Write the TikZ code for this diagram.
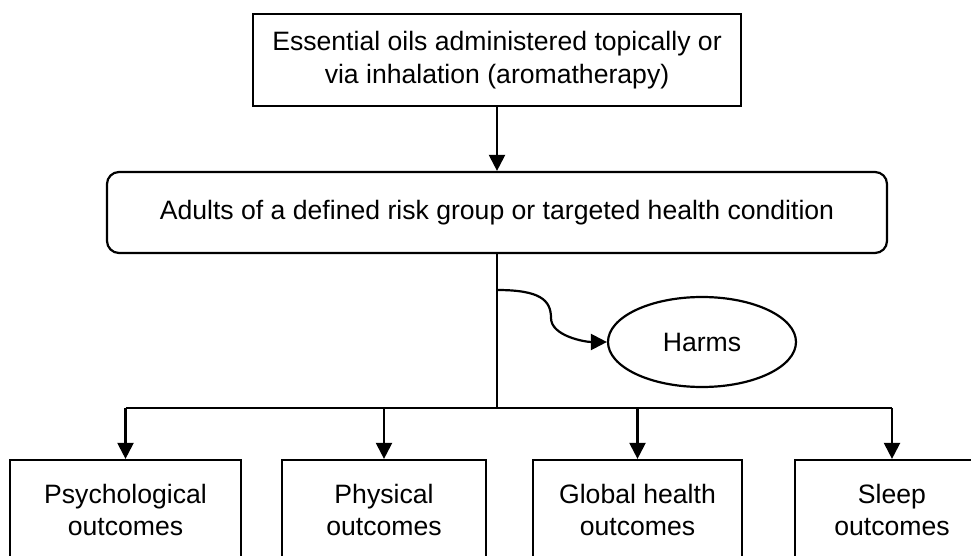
\documentclass[tikz,border=0pt]{standalone}
\usepackage{fontspec}
\setmainfont{Liberation Sans}
\usetikzlibrary{arrows.meta,shapes.geometric}
\begin{document}
\begin{tikzpicture}[x=1pt,y=-1pt,line width=2.2pt,
  txt/.style={font=\fontsize{26.6}{32.5}\selectfont},
  box/.style={draw, rectangle, inner sep=0pt, align=center, txt},
  arr/.style={-{Triangle[width=16pt,length=16pt]}}]
\useasboundingbox (0,0) rectangle (971,556);
\node[box, minimum width=488pt, minimum height=92pt] (oils) at (497,60) {Essential oils administered topically or\\via inhalation (aromatherapy)};
\node[box, rounded corners=12pt, minimum width=780pt, minimum height=81pt] (adults) at (497,212.5) {Adults of a defined risk group or targeted health condition};
\node[draw, ellipse, inner sep=0pt, minimum width=188pt, minimum height=90pt, txt] (harms) at (702,342) {Harms};
\node[box, minimum width=231pt, minimum height=100pt] (psych) at (125.5,510) {Psychological\\outcomes};
\node[box, minimum width=204pt, minimum height=100pt] (phys) at (384,510) {Physical\\outcomes};
\node[box, minimum width=209pt, minimum height=100pt] (glob) at (637.5,510) {Global health\\outcomes};
\node[box, minimum width=194pt, minimum height=100pt] (sleep) at (892,510) {Sleep\\outcomes};
\coordinate (bus) at (497,408);
\coordinate (hs) at (497,290);
\draw[arr] (oils.south) -- (adults.north);
\draw (adults.south) -- (bus);
\draw (psych.north |- bus) -- (sleep.north |- bus);
\draw[arr] (psych.north |- bus) -- (psych.north);
\draw[arr] (phys.north |- bus) -- (phys.north);
\draw[arr] (glob.north |- bus) -- (glob.north);
\draw[arr] (sleep.north |- bus) -- (sleep.north);
\draw[arr] (hs) .. controls (540,290) and (551,300) .. (551,318) .. controls (551,336) and (585,342) .. (harms.west);
\end{tikzpicture}
\end{document}
